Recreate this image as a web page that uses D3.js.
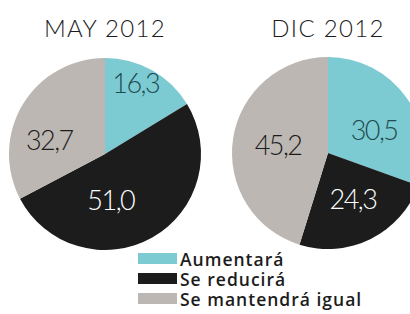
<!DOCTYPE html>
<html>
<head>
<meta charset="utf-8">
<script src="https://cdn.jsdelivr.net/npm/d3@7"></script>
<style>
  body { margin: 0; background: #fff; }
  svg { display: block; }
</style>
</head>
<body>
<div id="chart"></div>
<script>
// Data
const categories = ['Aumentará', 'Se reducirá', 'Se mantendrá igual'];
const periods = ['MAY 2012', 'DIC 2012'];
const mayValues = [16.3, 51.0, 32.7];
const dicValues = [30.5, 24.3, 45.2];

const width = 410, height = 314;

const svg = d3.select('#chart')
  .append('svg')
  .attr('width', width)
  .attr('height', height);

const color = d3.scaleOrdinal()
  .domain(categories)
  .range(['#7dcbd2', '#1c1c1c', '#bcb7b2']);
const labelColor = d3.scaleOrdinal()
  .domain(categories)
  .range(['#1d4b50', '#ffffff', '#1c1c1c']);

// pie positions + label offsets (as fraction of radius)
const pies = [
  { title: periods[0], values: mayValues, cx: 105, cy: 154, r: 96,
    labelPos: [[0.32, -0.74], [0.06, 0.48], [-0.58, -0.14]] },
  { title: periods[1], values: dicValues, cx: 328, cy: 153, r: 96,
    labelPos: [[0.48, -0.24], [0.26, 0.48], [-0.52, -0.08]] },
];

const pie = d3.pie().sort(null).value(d => d.value);
const arc = d3.arc().innerRadius(0);

pies.forEach(p => {
  const data = categories.map((c, i) => ({ cat: c, value: p.values[i] }));
  const g = svg.append('g')
    .attr('transform', 'translate(' + p.cx + ',' + p.cy + ')');

  g.selectAll('path')
    .data(pie(data))
    .enter()
    .append('path')
    .attr('d', d => arc.outerRadius(p.r)(d))
    .attr('fill', d => color(d.data.cat));

  g.selectAll('text.val')
    .data(pie(data))
    .enter()
    .append('text')
    .attr('class', 'val')
    .attr('x', (d, i) => p.labelPos[i][0] * p.r)
    .attr('y', (d, i) => p.labelPos[i][1] * p.r)
    .attr('dy', '0.36em')
    .attr('text-anchor', 'middle')
    .style('font-family', 'Lato, sans-serif')
    .style('font-weight', 300)
    .style('font-size', '27px')
    .style('letter-spacing', '-1.5px')
    .style('fill', d => labelColor(d.data.cat))
    .text(d => d3.format('.1f')(d.data.value).replace('.', ','));

  // title
  svg.append('text')
    .attr('x', p.cx)
    .attr('y', 37)
    .attr('text-anchor', 'middle')
    .style('font-family', 'Lato, sans-serif')
    .style('font-weight', 300)
    .style('font-size', '24px')
    .style('letter-spacing', '1.3px')
    .style('fill', '#1c1c1c')
    .text(p.title);
});

// legend
const legend = svg.selectAll('g.legend')
  .data(categories)
  .enter()
  .append('g')
  .attr('class', 'legend')
  .attr('transform', (d, i) => 'translate(138,' + (253 + i * 20) + ')');

legend.append('rect')
  .attr('width', 39)
  .attr('height', 11)
  .attr('fill', d => color(d));

legend.append('text')
  .attr('x', 42)
  .attr('y', 13)
  .style('font-family', '"Open Sans", sans-serif')
  .style('font-weight', 600)
  .style('font-size', '17.5px')
  .style('letter-spacing', '1px')
  .style('fill', '#1c1c1c')
  .text(d => d);
</script>
</body>
</html>
